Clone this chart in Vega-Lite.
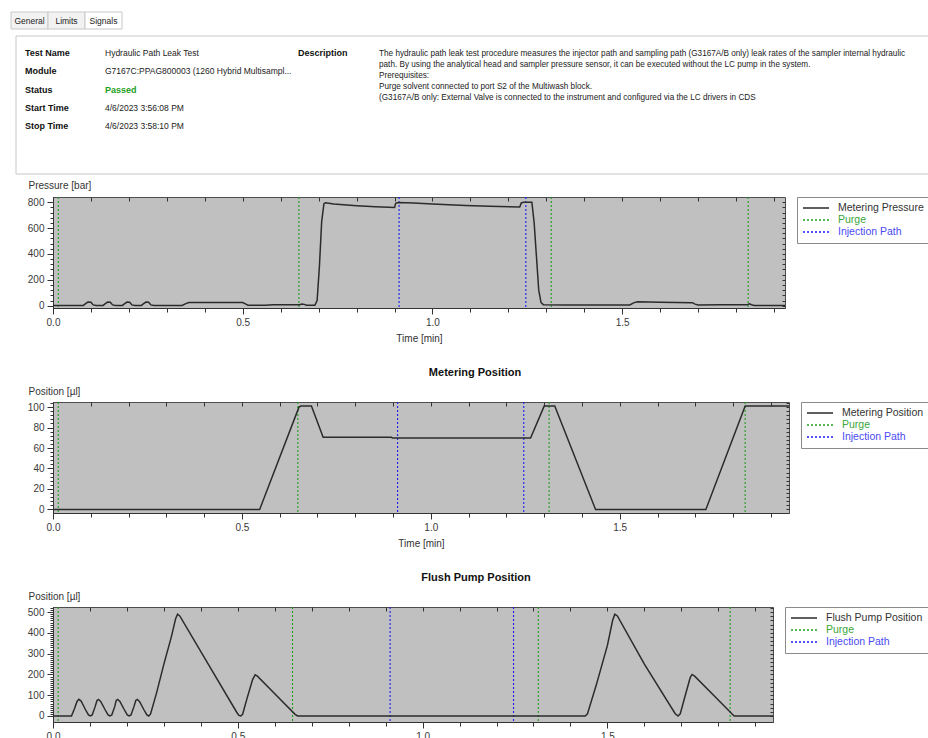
{
 "$schema": "https://vega.github.io/schema/vega-lite/v6.json",
 "background": "white",
 "padding": {"left": 10, "top": 11, "right": 0, "bottom": 0},
 "config": {
  "font": "Liberation Sans",
  "view": {"stroke": null},
  "axis": {"grid": false, "labelFontSize": 10, "labelColor": "#3a3a3a", "tickColor": "#333333", "domainColor": "#333333", "titleFontWeight": "normal", "titleFontSize": 10, "titleColor": "#333333", "labelOverlap": false, "labelBound": false, "labelFlush": false},
  "legend": {"orient": "right", "offset": 11, "padding": 5, "fillColor": "white", "strokeColor": "#8a8a8a", "symbolType": "stroke", "symbolSize": 676, "symbolStrokeWidth": 1.3, "labelFontSize": 10.5, "labelOffset": 8, "clipHeight": 12, "rowPadding": 0, "labelLimit": 200},
  "title": {"fontSize": 11, "fontWeight": "bold", "color": "#111111"}
 },
 "datasets": {
  "tabs": [{"tab": "General"}, {"tab": "Limits"}, {"tab": "Signals"}],
  "panel": [{"part": "box"}],
  "info": [
   {"field": "Test Name", "value": "Hydraulic Path Leak Test"},
   {"field": "Module", "value": "G7167C:PPAG800003 (1260 Hybrid Multisampl..."},
   {"field": "Status", "value": "Passed"},
   {"field": "Start Time", "value": "4/6/2023 3:56:08 PM"},
   {"field": "Stop Time", "value": "4/6/2023 3:58:10 PM"}
  ],
  "desc": [
   {"label": "Description", "text": "The hydraulic path leak test procedure measures the injector path and sampling path (G3167A/B only) leak rates of the sampler internal hydraulic\npath. By using the analytical head and sampler pressure sensor, it can be executed without the LC pump in the system.\nPrerequisites:\n\u00a0\u00a0Purge solvent connected to port S2 of the Multiwash block.\n\u00a0(G3167A/B only: External Valve is connected to the instrument and configured via the LC drivers in CDS"}
  ],
  "events": [
   {"t": 0.014, "series": "Purge"}, {"t": 0.648, "series": "Purge"}, {"t": 1.313, "series": "Purge"}, {"t": 1.832, "series": "Purge"},
   {"t": 0.912, "series": "Injection Path"}, {"t": 1.246, "series": "Injection Path"}
  ],
  "pressure": [
   {"t": 0, "v": 2}, {"t": 0.08, "v": 2}, {"t": 0.085, "v": 14}, {"t": 0.092, "v": 28}, {"t": 0.1, "v": 27}, {"t": 0.106, "v": 6}, {"t": 0.114, "v": 2},
   {"t": 0.132, "v": 2}, {"t": 0.137, "v": 14}, {"t": 0.144, "v": 28}, {"t": 0.151, "v": 27}, {"t": 0.157, "v": 6}, {"t": 0.165, "v": 2},
   {"t": 0.183, "v": 2}, {"t": 0.188, "v": 14}, {"t": 0.195, "v": 28}, {"t": 0.202, "v": 27}, {"t": 0.208, "v": 6}, {"t": 0.216, "v": 2},
   {"t": 0.233, "v": 2}, {"t": 0.238, "v": 14}, {"t": 0.245, "v": 28}, {"t": 0.252, "v": 27}, {"t": 0.258, "v": 6}, {"t": 0.266, "v": 2},
   {"t": 0.34, "v": 2}, {"t": 0.35, "v": 16}, {"t": 0.358, "v": 25}, {"t": 0.42, "v": 25}, {"t": 0.5, "v": 24}, {"t": 0.507, "v": 14}, {"t": 0.514, "v": 4},
   {"t": 0.56, "v": 4}, {"t": 0.58, "v": 7}, {"t": 0.65, "v": 8}, {"t": 0.656, "v": 13}, {"t": 0.662, "v": 10}, {"t": 0.668, "v": 3}, {"t": 0.69, "v": 3},
   {"t": 0.696, "v": 40}, {"t": 0.702, "v": 300}, {"t": 0.708, "v": 650}, {"t": 0.714, "v": 790}, {"t": 0.718, "v": 797}, {"t": 0.74, "v": 786},
   {"t": 0.8, "v": 774}, {"t": 0.85, "v": 766}, {"t": 0.9, "v": 759}, {"t": 0.903, "v": 792}, {"t": 0.91, "v": 799}, {"t": 0.95, "v": 794},
   {"t": 1.0, "v": 786}, {"t": 1.087, "v": 776}, {"t": 1.15, "v": 770}, {"t": 1.23, "v": 764}, {"t": 1.234, "v": 795}, {"t": 1.24, "v": 801},
   {"t": 1.262, "v": 800}, {"t": 1.268, "v": 640}, {"t": 1.274, "v": 380}, {"t": 1.28, "v": 120}, {"t": 1.286, "v": 25}, {"t": 1.292, "v": 8},
   {"t": 1.35, "v": 5}, {"t": 1.45, "v": 5}, {"t": 1.52, "v": 6}, {"t": 1.53, "v": 22}, {"t": 1.54, "v": 30}, {"t": 1.6, "v": 27}, {"t": 1.685, "v": 23},
   {"t": 1.692, "v": 12}, {"t": 1.7, "v": 5}, {"t": 1.76, "v": 7}, {"t": 1.83, "v": 8}, {"t": 1.835, "v": 14}, {"t": 1.841, "v": 7}, {"t": 1.848, "v": 2}, {"t": 1.929, "v": 2}
  ],
  "metering": [
   {"t": 0, "v": 0}, {"t": 0.547, "v": 0}, {"t": 0.651, "v": 100}, {"t": 0.656, "v": 101}, {"t": 0.684, "v": 101}, {"t": 0.715, "v": 70.5},
   {"t": 0.896, "v": 70.5}, {"t": 0.898, "v": 69.8}, {"t": 1.264, "v": 69.8}, {"t": 1.3, "v": 101}, {"t": 1.328, "v": 101}, {"t": 1.436, "v": 0},
   {"t": 1.728, "v": 0}, {"t": 1.832, "v": 101}, {"t": 1.948, "v": 101}
  ],
  "flush": [
   {"t": 0, "v": 0}, {"t": 0.05, "v": 0}, {"t": 0.058, "v": 35}, {"t": 0.065, "v": 70}, {"t": 0.07, "v": 80}, {"t": 0.076, "v": 72}, {"t": 0.088, "v": 30}, {"t": 0.096, "v": 5}, {"t": 0.101, "v": 0}, {"t": 0.106, "v": 5},
   {"t": 0.114, "v": 45}, {"t": 0.119, "v": 75}, {"t": 0.123, "v": 80}, {"t": 0.129, "v": 70}, {"t": 0.141, "v": 30}, {"t": 0.149, "v": 5}, {"t": 0.154, "v": 0}, {"t": 0.159, "v": 5},
   {"t": 0.167, "v": 45}, {"t": 0.171, "v": 75}, {"t": 0.175, "v": 80}, {"t": 0.181, "v": 70}, {"t": 0.193, "v": 30}, {"t": 0.201, "v": 5}, {"t": 0.206, "v": 0}, {"t": 0.211, "v": 5},
   {"t": 0.219, "v": 45}, {"t": 0.224, "v": 75}, {"t": 0.228, "v": 80}, {"t": 0.234, "v": 70}, {"t": 0.246, "v": 30}, {"t": 0.254, "v": 5}, {"t": 0.259, "v": 0}, {"t": 0.264, "v": 10},
   {"t": 0.28, "v": 110}, {"t": 0.3, "v": 250}, {"t": 0.32, "v": 380}, {"t": 0.332, "v": 470}, {"t": 0.337, "v": 490}, {"t": 0.343, "v": 482}, {"t": 0.42, "v": 250},
   {"t": 0.497, "v": 18}, {"t": 0.503, "v": 3}, {"t": 0.508, "v": 0}, {"t": 0.513, "v": 8}, {"t": 0.525, "v": 85}, {"t": 0.54, "v": 175}, {"t": 0.547, "v": 198},
   {"t": 0.553, "v": 192}, {"t": 0.6, "v": 107}, {"t": 0.655, "v": 8}, {"t": 0.662, "v": 0},
   {"t": 1.44, "v": 0}, {"t": 1.446, "v": 10}, {"t": 1.47, "v": 150}, {"t": 1.5, "v": 340}, {"t": 1.514, "v": 460}, {"t": 1.52, "v": 490}, {"t": 1.527, "v": 482},
   {"t": 1.6, "v": 250}, {"t": 1.683, "v": 12}, {"t": 1.691, "v": 0}, {"t": 1.697, "v": 10}, {"t": 1.71, "v": 95}, {"t": 1.724, "v": 185}, {"t": 1.729, "v": 200},
   {"t": 1.736, "v": 192}, {"t": 1.79, "v": 95}, {"t": 1.836, "v": 12}, {"t": 1.843, "v": 0}, {"t": 1.948, "v": 0}
  ]
 },
 "spacing": 4,
 "resolve": {"scale": {"x": "independent", "y": "independent"}},
 "vconcat": [
  {
   "spacing": 5,
   "resolve": {"scale": {"x": "independent", "y": "independent"}},
   "vconcat": [
    {
     "width": 69, "height": 17,
     "view": {"stroke": null},
     "data": {"name": "tabs"},
     "encoding": {"x": {"field": "tab", "type": "nominal", "sort": null, "scale": {"paddingInner": 0, "paddingOuter": 0, "range": [-42, 69]}, "axis": null}},
     "layer": [
      {"mark": {"type": "bar", "stroke": "#c8c8c8", "strokeWidth": 1}, "encoding": {"fill": {"condition": {"test": "datum.tab === 'Signals'", "value": "#ffffff"}, "value": "#f2f2f2"}}},
      {"mark": {"type": "text", "fontSize": 8.5, "color": "#222222"}, "encoding": {"text": {"field": "tab"}}}
     ]
    },
    {
     "width": 876, "height": 138,
     "view": {"stroke": null},
     "resolve": {"scale": {"x": "independent"}},
     "layer": [
      {"data": {"name": "panel"},
       "mark": {"type": "rect", "fill": "white", "stroke": "#c8c8c8", "strokeWidth": 1},
       "encoding": {
        "x": {"datum": "L", "type": "nominal", "scale": {"type": "point", "domain": ["L", "R"], "range": [-37, 876], "padding": 0}, "axis": null},
        "x2": {"datum": "R"}
       }},
      {"data": {"name": "info"},
       "mark": {"type": "text", "align": "left", "baseline": "middle", "fontWeight": "bold", "fontSize": 9, "color": "#111111"},
       "encoding": {
        "x": {"datum": "label", "type": "nominal", "scale": {"type": "point", "domain": ["label", "value"], "range": [-28, 52], "padding": 0}, "axis": null},
        "y": {"field": "field", "type": "nominal", "sort": null, "scale": {"type": "point", "domain": ["Test Name", "Module", "Status", "Start Time", "Stop Time"], "range": [17, 90], "padding": 0}, "axis": null},
        "text": {"field": "field"}
       }},
      {"data": {"name": "info"},
       "transform": [{"filter": "datum.field !== 'Status'"}],
       "mark": {"type": "text", "align": "left", "baseline": "middle", "fontSize": 8.5, "color": "#222222"},
       "encoding": {
        "x": {"datum": "value", "type": "nominal", "scale": {"type": "point", "domain": ["label", "value"], "range": [-28, 52], "padding": 0}, "axis": null},
        "y": {"field": "field", "type": "nominal", "sort": null, "axis": null},
        "text": {"field": "value"}
       }},
      {"data": {"name": "info"},
       "transform": [{"filter": "datum.field === 'Status'"}],
       "mark": {"type": "text", "align": "left", "baseline": "middle", "fontSize": 9, "fontWeight": "bold", "color": "#22a022"},
       "encoding": {
        "x": {"datum": "value", "type": "nominal", "scale": {"type": "point", "domain": ["label", "value"], "range": [-28, 52], "padding": 0}, "axis": null},
        "y": {"field": "field", "type": "nominal", "sort": null, "axis": null},
        "text": {"field": "value"}
       }},
      {"data": {"name": "desc"},
       "mark": {"type": "text", "align": "left", "baseline": "middle", "fontWeight": "bold", "fontSize": 9, "color": "#111111"},
       "encoding": {
        "x": {"datum": "desclabel", "type": "nominal", "scale": {"type": "point", "domain": ["desclabel", "desc"], "range": [245, 326], "padding": 0}, "axis": null},
        "y": {"datum": "Test Name", "type": "nominal", "axis": null},
        "text": {"field": "label"}
       }},
      {"data": {"name": "desc"},
       "mark": {"type": "text", "align": "left", "baseline": "top", "dy": -3, "fontSize": 8.2, "lineBreak": "\n", "lineHeight": 11, "color": "#222222"},
       "encoding": {
        "x": {"datum": "desc", "type": "nominal", "scale": {"type": "point", "domain": ["desclabel", "desc"], "range": [245, 326], "padding": 0}, "axis": null},
        "y": {"datum": "Test Name", "type": "nominal", "axis": null},
        "text": {"field": "text"}
       }}
     ]
    }
   ]
  },
  {
   "spacing": 94,
   "bounds": "flush",
   "resolve": {"scale": {"x": "independent", "y": "independent", "color": "independent"}},
   "vconcat": [
    {
     "width": 732, "height": 111,
     "view": {"fill": "#c0c0c0", "stroke": "#4d4d4d"},
     "resolve": {"axis": {"x": "independent", "y": "independent"}},
     "layer": [
      {"data": {"name": "events"},
       "mark": {"type": "rule", "strokeWidth": 1.1, "strokeDash": [2, 2]},
       "encoding": {
        "x": {"field": "t", "type": "quantitative", "scale": {"domain": [0, 1.929], "nice": false, "zero": false},
              "axis": {"orient": "bottom", "values": [0, 0.1, 0.2, 0.3, 0.4, 0.5, 0.6, 0.7, 0.8, 0.9, 1, 1.1, 1.2, 1.3, 1.4, 1.5, 1.6, 1.7, 1.8, 1.9], "labelExpr": "abs(round(datum.value*10)) % 5 == 0 ? format(datum.value, '.1f') : ''", "tickSize": {"condition": {"test": "abs(round(datum.value*10)) % 5 == 0", "value": 6}, "value": 4}, "labelPadding": 3, "title": "Time [min]", "titlePadding": 6}},
        "color": {"field": "series", "type": "nominal", "scale": {"domain": ["Metering Pressure", "Purge", "Injection Path"], "range": ["#2b2b2b", "#1f9e1f", "#1c1cff"]},
                  "legend": {"title": null, "encode": {"labels": {"update": {"fill": {"signal": "datum.value === 'Purge' ? '#3aa63a' : datum.value === 'Injection Path' ? '#4a4af2' : '#333333'"}}}, "symbols": {"update": {"strokeDash": {"signal": "indexof(['Purge','Injection Path'], datum.value) >= 0 ? [2,2] : [1,0]"}}}}}}
       }},
      {"data": {"name": "pressure"},
       "mark": {"type": "line", "strokeWidth": 1.5, "clip": true},
       "encoding": {
        "x": {"field": "t", "type": "quantitative", "axis": {"orient": "top", "values": [0, 0.1, 0.2, 0.3, 0.4, 0.5, 0.6, 0.7, 0.8, 0.9, 1, 1.1, 1.2, 1.3, 1.4, 1.5, 1.6, 1.7, 1.8, 1.9], "labels": false, "domain": false, "tickSize": -4, "title": null}},
        "y": {"field": "v", "type": "quantitative", "scale": {"domain": [-18, 841], "nice": false, "zero": false},
              "axis": {"orient": "left", "values": [0, 40, 80, 120, 160, 200, 240, 280, 320, 360, 400, 440, 480, 520, 560, 600, 640, 680, 720, 760, 800], "labelExpr": "datum.value % 200 == 0 ? format(datum.value, 'd') : ''", "tickSize": {"condition": {"test": "datum.value % 200 == 0", "value": 6}, "value": 3}, "labelPadding": 3, "title": "Pressure [bar]", "titleAngle": 0, "titleAlign": "left", "titleBaseline": "middle", "titleX": -25, "titleY": -12}},
        "color": {"datum": "Metering Pressure", "type": "nominal",
                  "legend": {"title": null, "encode": {"labels": {"update": {"fill": {"signal": "datum.value === 'Purge' ? '#3aa63a' : datum.value === 'Injection Path' ? '#4a4af2' : '#333333'"}}}, "symbols": {"update": {"strokeDash": {"signal": "indexof(['Purge','Injection Path'], datum.value) >= 0 ? [2,2] : [1,0]"}}}}}}
       }},
      {"data": {"name": "pressure"},
       "mark": {"type": "point", "opacity": 0},
       "encoding": {
        "y": {"field": "v", "type": "quantitative", "axis": {"orient": "right", "values": [0, 40, 80, 120, 160, 200, 240, 280, 320, 360, 400, 440, 480, 520, 560, 600, 640, 680, 720, 760, 800], "labels": false, "domain": false, "tickSize": -3, "title": null}}
       }}
     ]
    },
    {
     "width": 736, "height": 111,
     "view": {"fill": "#c0c0c0", "stroke": "#4d4d4d"},
     "title": {"text": "Metering Position", "anchor": "middle", "dx": 54, "offset": 8},
     "resolve": {"axis": {"x": "independent", "y": "independent"}},
     "layer": [
      {"data": {"name": "events"},
       "mark": {"type": "rule", "strokeWidth": 1.1, "strokeDash": [2, 2]},
       "encoding": {
        "x": {"field": "t", "type": "quantitative", "scale": {"domain": [0, 1.948], "nice": false, "zero": false},
              "axis": {"orient": "bottom", "values": [0, 0.1, 0.2, 0.3, 0.4, 0.5, 0.6, 0.7, 0.8, 0.9, 1, 1.1, 1.2, 1.3, 1.4, 1.5, 1.6, 1.7, 1.8, 1.9], "labelExpr": "abs(round(datum.value*10)) % 5 == 0 ? format(datum.value, '.1f') : ''", "tickSize": {"condition": {"test": "abs(round(datum.value*10)) % 5 == 0", "value": 6}, "value": 4}, "labelPadding": 3, "title": "Time [min]", "titlePadding": 6}},
        "color": {"field": "series", "type": "nominal", "scale": {"domain": ["Metering Position", "Purge", "Injection Path"], "range": ["#2b2b2b", "#1f9e1f", "#1c1cff"]},
                  "legend": {"title": null, "encode": {"labels": {"update": {"fill": {"signal": "datum.value === 'Purge' ? '#3aa63a' : datum.value === 'Injection Path' ? '#4a4af2' : '#333333'"}}}, "symbols": {"update": {"strokeDash": {"signal": "indexof(['Purge','Injection Path'], datum.value) >= 0 ? [2,2] : [1,0]"}}}}}}
       }},
      {"data": {"name": "metering"},
       "mark": {"type": "line", "strokeWidth": 1.5, "clip": true},
       "encoding": {
        "x": {"field": "t", "type": "quantitative", "axis": {"orient": "top", "values": [0, 0.1, 0.2, 0.3, 0.4, 0.5, 0.6, 0.7, 0.8, 0.9, 1, 1.1, 1.2, 1.3, 1.4, 1.5, 1.6, 1.7, 1.8, 1.9], "labels": false, "domain": false, "tickSize": -4, "title": null}},
        "y": {"field": "v", "type": "quantitative", "scale": {"domain": [-3.5, 105], "nice": false, "zero": false},
              "axis": {"orient": "left", "values": [0, 4, 8, 12, 16, 20, 24, 28, 32, 36, 40, 44, 48, 52, 56, 60, 64, 68, 72, 76, 80, 84, 88, 92, 96, 100, 104], "labelExpr": "datum.value % 20 == 0 ? format(datum.value, 'd') : ''", "tickSize": {"condition": {"test": "datum.value % 20 == 0", "value": 6}, "value": 3}, "labelPadding": 3, "title": "Position [µl]", "titleAngle": 0, "titleAlign": "left", "titleBaseline": "middle", "titleX": -25, "titleY": -11}},
        "color": {"datum": "Metering Position", "type": "nominal",
                  "legend": {"title": null, "encode": {"labels": {"update": {"fill": {"signal": "datum.value === 'Purge' ? '#3aa63a' : datum.value === 'Injection Path' ? '#4a4af2' : '#333333'"}}}, "symbols": {"update": {"strokeDash": {"signal": "indexof(['Purge','Injection Path'], datum.value) >= 0 ? [2,2] : [1,0]"}}}}}}
       }},
      {"data": {"name": "metering"},
       "mark": {"type": "point", "opacity": 0},
       "encoding": {
        "y": {"field": "v", "type": "quantitative", "axis": {"orient": "right", "values": [0, 4, 8, 12, 16, 20, 24, 28, 32, 36, 40, 44, 48, 52, 56, 60, 64, 68, 72, 76, 80, 84, 88, 92, 96, 100, 104], "labels": false, "domain": false, "tickSize": -3, "title": null}}
       }}
     ]
    },
    {
     "width": 720, "height": 115,
     "view": {"fill": "#c0c0c0", "stroke": "#4d4d4d"},
     "title": {"text": "Flush Pump Position", "anchor": "middle", "dx": 63, "offset": 8},
     "resolve": {"axis": {"x": "independent", "y": "independent"}},
     "layer": [
      {"data": {"name": "events"},
       "mark": {"type": "rule", "strokeWidth": 1.1, "strokeDash": [2, 2]},
       "encoding": {
        "x": {"field": "t", "type": "quantitative", "scale": {"domain": [0, 1.948], "nice": false, "zero": false},
              "axis": {"orient": "bottom", "values": [0, 0.1, 0.2, 0.3, 0.4, 0.5, 0.6, 0.7, 0.8, 0.9, 1, 1.1, 1.2, 1.3, 1.4, 1.5, 1.6, 1.7, 1.8, 1.9], "labelExpr": "abs(round(datum.value*10)) % 5 == 0 ? format(datum.value, '.1f') : ''", "tickSize": {"condition": {"test": "abs(round(datum.value*10)) % 5 == 0", "value": 6}, "value": 4}, "labelPadding": 3, "title": "Time [min]", "titlePadding": 6}},
        "color": {"field": "series", "type": "nominal", "scale": {"domain": ["Flush Pump Position", "Purge", "Injection Path"], "range": ["#2b2b2b", "#1f9e1f", "#1c1cff"]},
                  "legend": {"title": null, "encode": {"labels": {"update": {"fill": {"signal": "datum.value === 'Purge' ? '#3aa63a' : datum.value === 'Injection Path' ? '#4a4af2' : '#333333'"}}}, "symbols": {"update": {"strokeDash": {"signal": "indexof(['Purge','Injection Path'], datum.value) >= 0 ? [2,2] : [1,0]"}}}}}}
       }},
      {"data": {"name": "flush"},
       "mark": {"type": "line", "strokeWidth": 1.5, "clip": true},
       "encoding": {
        "x": {"field": "t", "type": "quantitative", "axis": {"orient": "top", "values": [0, 0.1, 0.2, 0.3, 0.4, 0.5, 0.6, 0.7, 0.8, 0.9, 1, 1.1, 1.2, 1.3, 1.4, 1.5, 1.6, 1.7, 1.8, 1.9], "labels": false, "domain": false, "tickSize": -4, "title": null}},
        "y": {"field": "v", "type": "quantitative", "scale": {"domain": [-29, 525], "nice": false, "zero": false},
              "axis": {"orient": "left", "values": [0, 10, 20, 30, 40, 50, 60, 70, 80, 90, 100, 110, 120, 130, 140, 150, 160, 170, 180, 190, 200, 210, 220, 230, 240, 250, 260, 270, 280, 290, 300, 310, 320, 330, 340, 350, 360, 370, 380, 390, 400, 410, 420, 430, 440, 450, 460, 470, 480, 490, 500, 510, 520], "labelExpr": "datum.value % 100 == 0 ? format(datum.value, 'd') : ''", "tickSize": {"condition": {"test": "datum.value % 100 == 0", "value": 6}, "value": 3}, "labelPadding": 3, "title": "Position [µl]", "titleAngle": 0, "titleAlign": "left", "titleBaseline": "middle", "titleX": -25, "titleY": -11}},
        "color": {"datum": "Flush Pump Position", "type": "nominal",
                  "legend": {"title": null, "encode": {"labels": {"update": {"fill": {"signal": "datum.value === 'Purge' ? '#3aa63a' : datum.value === 'Injection Path' ? '#4a4af2' : '#333333'"}}}, "symbols": {"update": {"strokeDash": {"signal": "indexof(['Purge','Injection Path'], datum.value) >= 0 ? [2,2] : [1,0]"}}}}}}
       }},
      {"data": {"name": "flush"},
       "mark": {"type": "point", "opacity": 0},
       "encoding": {
        "y": {"field": "v", "type": "quantitative", "axis": {"orient": "right", "values": [0, 20, 40, 60, 80, 100, 120, 140, 160, 180, 200, 220, 240, 260, 280, 300, 320, 340, 360, 380, 400, 420, 440, 460, 480, 500, 520], "labels": false, "domain": false, "tickSize": -3, "title": null}}
       }}
     ]
    }
   ]
  }
 ]
}
